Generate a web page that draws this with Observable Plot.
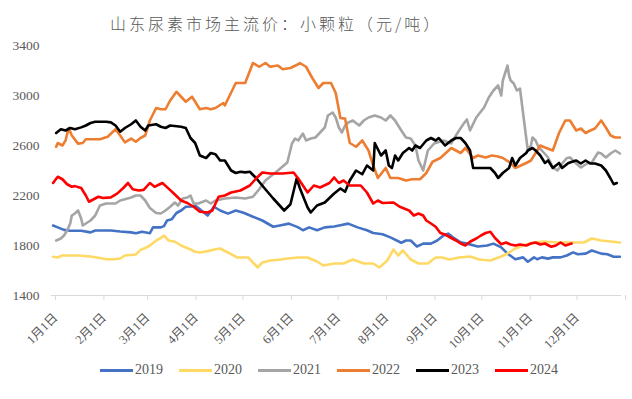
<!DOCTYPE html>
<html><head><meta charset="utf-8">
<script src="https://cdn.jsdelivr.net/npm/d3@7"></script>
<script src="https://cdn.jsdelivr.net/npm/@observablehq/plot@0.6"></script>
<style>
body{margin:0;background:#fff;width:632px;height:399px;overflow:hidden;position:relative;}
#title{position:absolute;left:110px;top:13px;font-family:"Noto Sans CJK SC",sans-serif;font-weight:300;font-size:16px;letter-spacing:3px;color:#595959;white-space:nowrap;line-height:20px;}
#chart{position:absolute;left:0;top:37px;}
#legend{position:absolute;left:100px;top:361px;display:flex;font-family:"Liberation Serif",serif;font-size:14px;color:#595959;line-height:18px;}
.item{display:flex;align-items:center;width:79px;}
.sw{width:33px;height:3px;margin-right:2px;}
</style></head><body>
<div id="title">山东尿素市场主流价：小颗粒（元/吨）</div>
<div id="chart"></div>
<div id="legend"></div>
<script>
const years = ["2019","2020","2021","2022","2023","2024"];
const colors = ["#4472C4","#FFD966","#A5A5A5","#ED7D31","#000000","#FF0000"];
const yTicks = [1400,1800,2200,2600,3000,3400];
const monthLabels = ["1月1日","2月1日","3月1日","4月1日","5月1日","6月1日","7月1日","8月1日","9月1日","10月1日","11月1日","12月1日"];

// [day of year (0 = Jan 1), price]
const s2019 = [[1,1960],[4,1945],[8,1925],[12,1918],[19,1918],[25,1905],[28,1920],[38,1920],[44,1912],[51,1905],[54,1898],[58,1910],[63,1898],[65,1945],[70,1945],[72,1955],[74,2000],[77,2010],[80,2060],[83,2080],[86,2110],[90,2112],[92,2120],[95,2090],[100,2040],[104,2110],[108,2080],[113,2055],[118,2080],[123,2062],[129,2030],[135,2000],[142,1950],[147,1962],[152,1975],[158,1945],[161,1922],[165,1945],[170,1922],[175,1945],[181,1952],[185,1962],[190,1975],[196,1945],[202,1922],[206,1900],[212,1890],[217,1865],[224,1822],[227,1840],[230,1840],[234,1792],[238,1815],[243,1815],[247,1840],[251,1880],[254,1895],[257,1865],[262,1825],[266,1815],[273,1792],[279,1800],[283,1815],[288,1785],[292,1735],[297,1690],[302,1705],[305,1670],[309,1705],[311,1690],[314,1705],[318,1695],[321,1705],[326,1705],[330,1720],[334,1745],[337,1730],[342,1735],[346,1760],[352,1735],[356,1730],[360,1710],[364,1710]];
const s2020 = [[1,1710],[4,1704],[7,1720],[17,1720],[25,1712],[31,1700],[35,1690],[40,1690],[44,1696],[47,1720],[54,1728],[57,1765],[60,1780],[63,1800],[67,1840],[70,1860],[72,1880],[75,1840],[79,1830],[83,1800],[86,1784],[89,1768],[92,1750],[95,1744],[100,1755],[105,1770],[108,1776],[113,1744],[119,1704],[126,1704],[129,1664],[132,1624],[135,1664],[140,1680],[147,1688],[151,1696],[158,1704],[164,1704],[170,1672],[174,1640],[181,1656],[187,1656],[193,1688],[200,1656],[206,1656],[210,1624],[215,1680],[219,1768],[222,1720],[225,1760],[230,1688],[235,1656],[241,1656],[246,1704],[250,1704],[255,1688],[261,1704],[268,1712],[274,1688],[281,1680],[288,1712],[292,1736],[297,1776],[302,1800],[309,1824],[315,1832],[324,1824],[333,1824],[341,1824],[346,1856],[352,1840],[358,1832],[364,1824]];
const s2021 = [[3,1840],[6,1856],[8,1880],[10,1920],[12,1976],[13,2040],[15,2056],[17,2080],[19,2016],[20,1960],[23,1984],[25,2000],[28,2040],[31,2120],[35,2136],[41,2136],[44,2160],[51,2184],[54,2200],[57,2200],[60,2160],[63,2100],[67,2060],[70,2056],[73,2080],[76,2110],[79,2144],[81,2120],[84,2176],[87,2184],[89,2200],[91,2136],[94,2136],[99,2160],[102,2136],[105,2160],[111,2176],[118,2184],[124,2176],[129,2190],[133,2250],[137,2320],[145,2400],[151,2464],[154,2616],[156,2656],[158,2640],[161,2696],[163,2640],[166,2656],[169,2664],[172,2704],[175,2744],[177,2840],[180,2864],[182,2824],[184,2744],[186,2704],[188,2760],[190,2784],[193,2800],[197,2760],[200,2800],[203,2824],[207,2840],[211,2824],[214,2800],[217,2840],[220,2800],[224,2720],[227,2664],[230,2656],[233,2600],[235,2480],[238,2400],[241,2560],[245,2616],[251,2640],[256,2616],[257,2640],[261,2720],[264,2776],[266,2808],[268,2720],[272,2824],[277,2904],[280,2984],[283,3040],[286,3080],[288,3000],[289,3120],[292,3240],[293,3160],[294,3120],[296,3096],[298,3040],[300,3056],[302,2856],[305,2560],[307,2600],[308,2664],[310,2640],[312,2584],[314,2560],[318,2504],[321,2424],[324,2400],[327,2456],[330,2500],[332,2504],[336,2456],[339,2424],[343,2456],[346,2464],[350,2544],[352,2536],[355,2504],[358,2536],[361,2560],[364,2536]];
const s2022 = [[3,2590],[4,2620],[7,2600],[9,2640],[11,2740],[13,2680],[17,2615],[20,2620],[22,2650],[28,2650],[31,2650],[36,2670],[41,2730],[44,2680],[47,2625],[51,2655],[54,2630],[57,2660],[60,2680],[63,2800],[67,2900],[70,2890],[73,2890],[76,2960],[80,3030],[83,2990],[86,2950],[90,2990],[95,2890],[99,2900],[102,2890],[105,2900],[110,2940],[111,2920],[118,3100],[124,3100],[129,3260],[133,3230],[137,3260],[140,3230],[145,3240],[148,3210],[153,3220],[158,3250],[159,3260],[163,3230],[167,3140],[171,3060],[174,3100],[179,3100],[182,3020],[185,2820],[188,2815],[191,2620],[195,2590],[199,2640],[203,2560],[206,2440],[209,2340],[214,2420],[217,2340],[222,2340],[227,2320],[231,2330],[236,2330],[240,2380],[244,2470],[249,2500],[256,2580],[259,2560],[262,2540],[265,2580],[270,2500],[273,2520],[278,2504],[282,2520],[286,2512],[289,2500],[294,2460],[297,2420],[304,2460],[307,2480],[310,2540],[313,2600],[316,2584],[321,2560],[325,2700],[329,2800],[332,2800],[336,2720],[339,2736],[342,2700],[345,2720],[348,2736],[352,2800],[355,2744],[358,2680],[361,2664],[364,2664]];
const s2023 = [[3,2700],[6,2730],[9,2720],[12,2740],[15,2730],[19,2745],[22,2760],[25,2780],[28,2790],[35,2790],[38,2785],[41,2760],[44,2710],[47,2740],[51,2770],[54,2800],[57,2750],[60,2720],[62,2760],[67,2770],[70,2750],[73,2740],[76,2760],[83,2750],[86,2740],[89,2660],[92,2620],[95,2520],[99,2500],[102,2540],[105,2530],[108,2480],[111,2480],[115,2400],[118,2380],[121,2390],[124,2385],[127,2390],[131,2340],[136,2264],[142,2176],[149,2080],[153,2130],[157,2336],[159,2260],[164,2104],[166,2064],[170,2120],[175,2144],[181,2216],[185,2256],[188,2230],[191,2320],[195,2400],[199,2370],[202,2440],[206,2400],[207,2620],[211,2520],[214,2560],[216,2440],[218,2420],[220,2520],[222,2480],[225,2540],[229,2580],[231,2560],[233,2600],[236,2580],[240,2640],[243,2660],[246,2640],[248,2660],[252,2600],[256,2640],[259,2660],[262,2660],[265,2620],[268,2560],[270,2420],[275,2420],[281,2420],[284,2380],[286,2340],[289,2380],[293,2420],[295,2500],[297,2440],[300,2500],[304,2540],[305,2560],[308,2580],[310,2560],[313,2520],[316,2460],[318,2480],[321,2420],[325,2460],[327,2420],[331,2460],[336,2480],[339,2456],[342,2480],[345,2456],[348,2456],[352,2440],[355,2400],[358,2336],[360,2290],[362,2300]];
const s2024 = [[1,2300],[4,2350],[7,2330],[10,2290],[13,2270],[15,2275],[19,2260],[22,2200],[24,2150],[27,2170],[30,2190],[33,2180],[38,2185],[42,2215],[46,2260],[49,2300],[52,2250],[56,2240],[59,2245],[63,2300],[66,2270],[71,2300],[75,2255],[78,2220],[83,2160],[87,2140],[91,2110],[95,2070],[100,2064],[103,2080],[107,2190],[111,2200],[115,2224],[121,2240],[127,2280],[131,2336],[135,2384],[140,2376],[148,2376],[155,2384],[158,2336],[164,2224],[168,2280],[172,2264],[178,2300],[181,2344],[184,2300],[187,2320],[191,2280],[198,2280],[202,2224],[206,2136],[209,2160],[212,2140],[219,2144],[223,2110],[229,2080],[232,2040],[235,2056],[238,2040],[240,2000],[243,1976],[246,1950],[249,1900],[252,1888],[256,1860],[259,1840],[262,1816],[265,1800],[268,1830],[272,1856],[275,1880],[278,1900],[281,1910],[284,1860],[288,1810],[291,1824],[294,1808],[297,1800],[300,1808],[304,1800],[307,1816],[310,1824],[313,1808],[316,1816],[320,1790],[323,1800],[326,1824],[329,1800],[333,1816]];
const series = [s2019,s2020,s2021,s2022,s2023,s2024];

const toDate = d => new Date(2001, 0, 1 + d);
const rows = years.flatMap((y, i) => series[i].map(p => ({date: toDate(p[0]), price: p[1], year: y})));
const xTicks = d3.range(12).map(m => new Date(2001, m, 1)).concat([new Date(2002, 0, 1)]);
const labelMap = new Map(xTicks.map((d, i) => [+d, monthLabels[i] ?? ""]));

const chart = Plot.plot({
  width: 632, height: 322,
  marginTop: 8, marginBottom: 64, marginLeft: 51, marginRight: 11,
  style: {background: "transparent", fontFamily: "'Liberation Serif','Noto Sans CJK SC',serif", overflow: "visible"},
  x: {type: "time", domain: [new Date(2001, 0, 1), new Date(2002, 0, 1)], label: null},
  y: {domain: [1400, 3400], label: null},
  marks: [
    Plot.axisY({ticks: yTicks, tickSize: 0, tickPadding: 12, fontSize: 13.5, fill: "#595959", label: null, tickFormat: d => String(d)}),
    Plot.ruleY([1400], {stroke: "#d9d9d9", strokeWidth: 1}),
    Plot.axisX({ticks: xTicks, tickSize: 5, stroke: "#d9d9d9", fill: "#595959", tickRotate: -45, tickPadding: 15, dx: 4,
      fontSize: 12.5, tickFormat: d => labelMap.get(+d), label: null}),
    ...years.map((y, i) => Plot.line(rows.filter(r => r.year === y), {x: "date", y: "price", stroke: colors[i], strokeWidth: 2.6, strokeLinejoin: "round"}))
  ]
});
document.getElementById("chart").appendChild(chart);

const legend = document.getElementById("legend");
years.forEach((y, i) => {
  const it = document.createElement("div"); it.className = "item";
  const sw = document.createElement("div"); sw.className = "sw"; sw.style.background = colors[i];
  const t = document.createElement("span"); t.textContent = y;
  it.appendChild(sw); it.appendChild(t); legend.appendChild(it);
});
</script>
</body></html>
